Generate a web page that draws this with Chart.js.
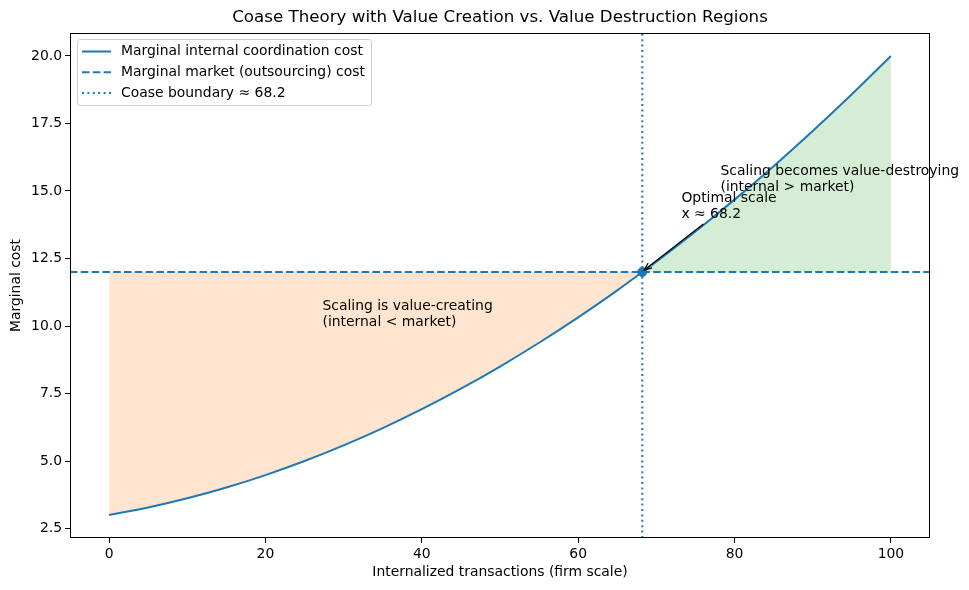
<!DOCTYPE html>
<html>
<head>
<meta charset="utf-8">
<script src="https://cdn.jsdelivr.net/npm/chart.js@4/dist/chart.umd.min.js"></script>
<style>
  html, body { margin: 0; padding: 0; background: #fff; }
  #wrap { width: 969px; height: 590px; }
</style>
</head>
<body>
<div id="wrap"><canvas id="coase" width="969" height="590"></canvas></div>
<script>
// 図から読み取った値
const xVals = [0, 5, 10, 15, 20, 25, 30, 35, 40, 45, 50, 55, 60, 65, 68.2, 70, 75, 80, 85, 90, 95, 100];
const internalCost = [3.0, 3.28, 3.62, 4.02, 4.48, 5.0, 5.58, 6.22, 6.92, 7.68, 8.5, 9.38, 10.32, 11.32, 12.0, 12.38, 13.5, 14.68, 15.92, 17.22, 18.58, 20.0];
const marketCost = 12;
const boundary = 68.2;
const xTicks = [0, 20, 40, 60, 80, 100];
const yTicks = [2.5, 5.0, 7.5, 10.0, 12.5, 15.0, 17.5, 20.0];

const xMin = -5, xMax = 105;
const yMin = 2.15, yMax = 20.85;

const blue = "#1f77b4";
const font = "DejaVu Sans";

let curve = xVals.map((x, i) => ({ x: x, y: internalCost[i] }));
let leftPart = curve.filter(p => p.x <= boundary);
let rightPart = curve.filter(p => p.x >= boundary);

// 文字と枠と凡例を描く
const extras = {
    id: "extras",
    afterDraw(chart) {
        const c = chart.ctx;
        const a = chart.chartArea;
        const xs = chart.scales.x, ys = chart.scales.y;
        c.save();

        // 枠
        c.strokeStyle = "#000";
        c.lineWidth = 1;
        c.strokeRect(Math.round(a.left) + 0.5, Math.round(a.top) + 0.5, Math.round(a.right - a.left) - 1, Math.round(a.bottom - a.top) - 1);

        // タイトル
        c.fillStyle = "#000";
        c.font = "16.7px '" + font + "'";
        c.textAlign = "center";
        c.textBaseline = "middle";
        c.fillText("Coase Theory with Value Creation vs. Value Destruction Regions", (a.left + a.right) / 2, 18);

        c.font = "13.9px '" + font + "'";
        c.fillText("Internalized transactions (firm scale)", (a.left + a.right) / 2, 572);
        c.save();
        c.translate(16, (a.top + a.bottom) / 2);
        c.rotate(-Math.PI / 2);
        c.fillText("Marginal cost", 0, 0);
        c.restore();

        // 注釈
        c.textAlign = "left";
        c.textBaseline = "alphabetic";
        const lh = 16;
        function note(lines, x, y) {
            let px = xs.getPixelForValue(x), py = ys.getPixelForValue(y);
            lines.forEach((t, i) => c.fillText(t, px, py - (lines.length - 1 - i) * lh));
            return [px, py];
        }
        note(["Scaling is value-creating", "(internal < market)"], 27.3, 10.0);
        note(["Scaling becomes value-destroying", "(internal > market)"], 78.2, 15.0);
        let p = note(["Optimal scale", "x \u2248 68.2"], 73.2, 14.0);

        // 矢印
        let tx = p[0] + 22, ty = p[1] + 6;
        let ex = xs.getPixelForValue(boundary) + 2, ey = ys.getPixelForValue(marketCost) - 2;
        c.strokeStyle = "#000";
        c.lineWidth = 1.2;
        c.beginPath();
        c.moveTo(tx, ty);
        c.lineTo(ex, ey);
        let ang = Math.atan2(ty - ey, tx - ex);
        let hl = 8;
        c.moveTo(ex + hl * Math.cos(ang + 0.4), ey + hl * Math.sin(ang + 0.4));
        c.lineTo(ex, ey);
        c.lineTo(ex + hl * Math.cos(ang - 0.4), ey + hl * Math.sin(ang - 0.4));
        c.stroke();

        // 凡例
        const lx = 77.5, ly = 39.5, lw = 294, lhh = 66;
        c.beginPath();
        c.roundRect(lx, ly, lw, lhh, 3);
        c.fillStyle = "rgba(255,255,255,0.8)";
        c.fill();
        c.strokeStyle = "#cccccc";
        c.lineWidth = 1;
        c.stroke();
        const items = [chart.data.datasets[0], chart.data.datasets[1], chart.data.datasets[2]];
        c.textBaseline = "middle";
        items.forEach((d, i) => {
            let yy = 51.5 + i * 20.8;
            c.strokeStyle = d.borderColor;
            c.lineWidth = d.borderWidth;
            c.setLineDash(d.borderDash || []);
            c.beginPath();
            c.moveTo(82, yy);
            c.lineTo(111, yy);
            c.stroke();
            c.setLineDash([]);
            c.fillStyle = "#000";
            c.fillText(d.label, 121, yy);
        });
        c.restore();
    }
};

window.addEventListener("load", function() {
    let ctx = document.getElementById("coase").getContext("2d");
    myChart = new Chart(ctx, {
        type: "line",
        data: {
            datasets: [{
                label: "Marginal internal coordination cost",
                data: curve,
                borderColor: blue,
                borderWidth: 2,
                pointRadius: 0,
                cubicInterpolationMode: "monotone",
                fill: false
            }, {
                label: "Marginal market (outsourcing) cost",
                data: [{ x: xMin, y: marketCost }, { x: xMax, y: marketCost }],
                borderColor: blue,
                borderWidth: 2,
                borderDash: [7.5, 3.3],
                pointRadius: 0,
                fill: false
            }, {
                label: "Coase boundary \u2248 68.2",
                data: [{ x: boundary, y: yMin }, { x: boundary, y: yMax }],
                borderColor: blue,
                borderWidth: 2,
                borderDash: [2, 3.4],
                pointRadius: 0,
                fill: false
            }, {
                label: "optimum",
                data: [{ x: boundary, y: marketCost }],
                showLine: false,
                pointRadius: 4.5,
                pointBackgroundColor: blue,
                pointBorderColor: blue,
                borderColor: blue
            }, {
                label: "value creating",
                data: leftPart,
                borderWidth: 0,
                pointRadius: 0,
                cubicInterpolationMode: "monotone",
                backgroundColor: "rgba(255,127,14,0.2)",
                borderColor: "rgba(0,0,0,0)",
                fill: { value: marketCost }
            }, {
                label: "value destroying",
                data: rightPart,
                borderWidth: 0,
                pointRadius: 0,
                cubicInterpolationMode: "monotone",
                backgroundColor: "rgba(44,160,44,0.2)",
                borderColor: "rgba(0,0,0,0)",
                fill: { value: marketCost }
            }]
        },
        options: {
            responsive: false,
            animation: false,
            devicePixelRatio: 1,
            layout: { padding: { top: 33, right: 39, left: 0, bottom: 0 } },
            plugins: {
                legend: { display: false },
                title: { display: false },
                tooltip: { enabled: false }
            },
            scales: {
                x: {
                    type: "linear",
                    min: xMin,
                    max: xMax,
                    afterBuildTicks: s => { s.ticks = xTicks.map(v => ({ value: v })); },
                    afterFit: s => { s.height = 52; },
                    grid: { drawOnChartArea: false, drawTicks: true, tickLength: 5, color: "#000", tickColor: "#000" },
                    border: { display: false },
                    ticks: { color: "#000", padding: 3, maxRotation: 0, font: { family: font, size: 13.9 }, callback: v => String(v) }
                },
                y: {
                    type: "linear",
                    min: yMin,
                    max: yMax,
                    afterBuildTicks: s => { s.ticks = yTicks.map(v => ({ value: v })); },
                    afterFit: s => { s.width = 70; },
                    grid: { drawOnChartArea: false, drawTicks: true, tickLength: 5, color: "#000", tickColor: "#000" },
                    border: { display: false },
                    ticks: { color: "#000", padding: 3, font: { family: font, size: 13.9 }, callback: v => v.toFixed(1) }
                }
            }
        },
        plugins: [extras]
    });
}, false);
</script>
</body>
</html>
